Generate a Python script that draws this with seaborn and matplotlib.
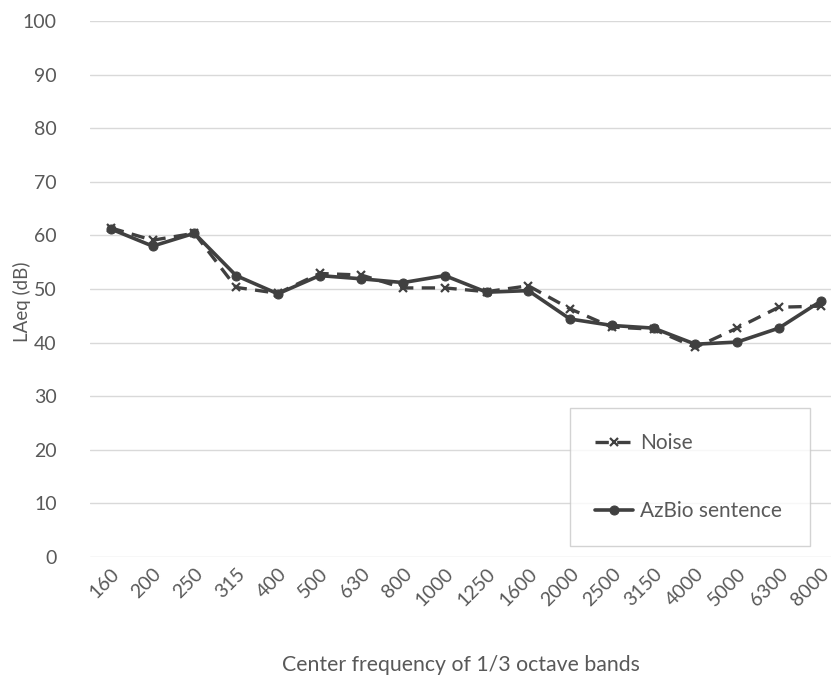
import numpy as np
import pandas as pd
import matplotlib
matplotlib.use("Agg")
import matplotlib.pyplot as plt
import seaborn as sns

# 1/3 octave band centre frequencies (Hz)
bands = ["160", "200", "250", "315", "400", "500", "630", "800", "1000",
         "1250", "1600", "2000", "2500", "3150", "4000", "5000", "6300", "8000"]

# LAeq (dB)
noise = [61.4, 59.1, 60.4, 50.3, 49.2, 52.9, 52.6, 50.2, 50.2,
         49.5, 50.6, 46.3, 42.9, 42.5, 39.1, 42.7, 46.6, 46.8]
azbio = [61.2, 58.0, 60.4, 52.5, 49.1, 52.5, 51.9, 51.2, 52.5,
         49.4, 49.7, 44.4, 43.2, 42.7, 39.7, 40.1, 42.7, 47.7]

sns.set_theme(style="white")
plt.rcParams["font.family"] = ["Lato", "DejaVu Sans"]

line_col = "#404040"
text_col = "#595959"

df = pd.DataFrame({"pos": np.arange(len(bands)), "noise": noise, "azbio": azbio})

fig = plt.figure(figsize=(8.31, 6.83), dpi=100)
ax = fig.add_axes([90 / 831, 126 / 683, 1 - 90 / 831, 536 / 683])

sns.lineplot(data=df, x="pos", y="noise", ax=ax, color=line_col, lw=2.4,
             linestyle=(0, (4, 2.5)), marker="x", markersize=6, mew=1.6,
             mec=line_col, label="Noise")
sns.lineplot(data=df, x="pos", y="azbio", ax=ax, color=line_col, lw=2.6,
             marker="o", markersize=6.5, mec=line_col, label="AzBio sentence")

ax.set_ylim(0, 100)
ax.set_yticks(range(0, 101, 10))
ax.set_xlim(-0.5, 17.25)
ax.set_xticks(df["pos"])
ax.set_xticklabels(bands, rotation=45, ha="right", rotation_mode="anchor")
ax.yaxis.grid(True, color="#d9d9d9", lw=1)
ax.xaxis.grid(False)
for s in ax.spines.values():
    s.set_visible(False)
ax.tick_params(axis="both", colors=text_col, labelsize=14, length=0)
ax.tick_params(axis="x", pad=6)
ax.tick_params(axis="y", pad=24)

ax.set_ylabel("LAeq (dB)", color=text_col, fontsize=13.5)
ax.yaxis.set_label_coords(-0.079, 0.476)
ax.set_xlabel("Center frequency of 1/3 octave bands", color=text_col,
              fontsize=15.3, labelpad=33)

leg = ax.legend(loc="lower left", bbox_to_anchor=(0.648, 0.0205, 0.324, 0.26),
                mode="expand", frameon=True, fancybox=False, fontsize=15,
                labelspacing=2.3, borderpad=1.2, handlelength=1.8,
                handletextpad=0.35, borderaxespad=0)
leg.get_frame().set_edgecolor("#c8c8c8")
leg.get_frame().set_linewidth(1)
for t in leg.get_texts():
    t.set_color(text_col)

fig.savefig("out.png", dpi=100, facecolor="white")
